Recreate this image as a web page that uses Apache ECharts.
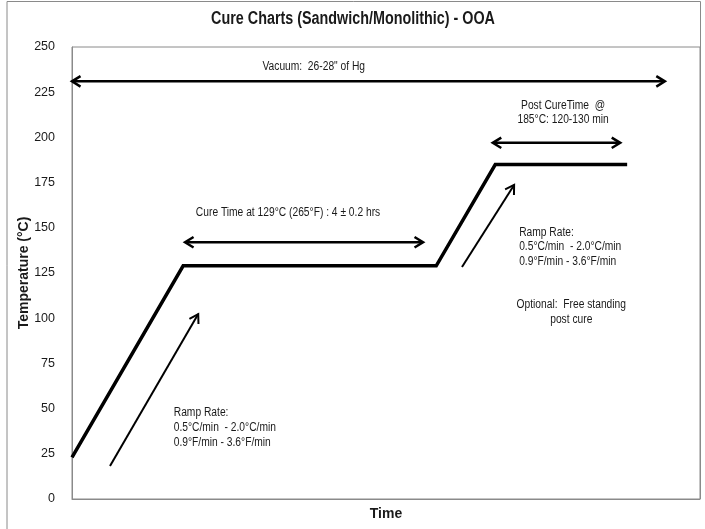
<!DOCTYPE html>
<html><head><meta charset="utf-8">
<script src="https://cdn.jsdelivr.net/npm/echarts@6/dist/echarts.min.js"></script>
<style>html,body{margin:0;padding:0;background:#fff}#c{width:705px;height:529px}</style>
</head><body><div id="c"></div>
<script>
const FONT = '"Liberation Sans Narrow","Arial Narrow","Liberation Sans",Arial,sans-serif';
const NARROW = 0.82; // horizontal squeeze to imitate the condensed face of the original

// Cure profile: time (arbitrary units, 0-100 across the axis) vs temperature (°C)
const profileTime = [0, 17.7, 58.0, 67.4, 88.4];
const profileTemp = [23, 129, 129, 185, 185];

// Y axis ticks
const yMin = 0, yMax = 250, yStep = 25;

// Double-headed arrows: [timeStart, temp, timeEnd, temp]
const doubleArrows = [
  [0, 231, 94.4, 231],    // vacuum
  [18.0, 142, 55.9, 142], // cure time
  [67.0, 197, 87.3, 197]  // post cure
];
// Single arrows (ramp direction): [timeFrom, tempFrom, timeTip, tempTip]
const singleArrows = [
  [6.05, 18.3, 20.1, 102.3],
  [62.1, 128.3, 70.4, 173.7]
];

// Annotation texts and anchors (time, temp)
const noteTexts = [
  'Vacuum:  26-28" of Hg',
  'Cure Time at 129°C (265°F) : 4 ± 0.2 hrs',
  'Post CureTime  @\n185°C: 120-130 min',
  'Ramp Rate:\n0.5°C/min  - 2.0°C/min\n0.9°F/min - 3.6°F/min',
  'Ramp Rate:\n0.5°C/min  - 2.0°C/min\n0.9°F/min - 3.6°F/min',
  'Optional:  Free standing\npost cure'
];
const noteTime = [38.5, 34.4, 78.2, 16.2, 71.2, 79.5];
const noteTemp = [239, 158.2, 213.8, 51.8, 151.4, 103.2];
const noteAlign = ['center', 'center', 'center', 'left', 'left', 'center'];
const noteVAlign = ['middle', 'middle', 'middle', 'top', 'top', 'middle'];
const noteLineHeight = [15, 15, 13.5, 15, 14.5, 15];

const TEXT = '#1a1a1a';
const titleText = 'Cure Charts (Sandwich/Monolithic) - OOA';

function chevron(tip, from, len, ang, w) {
  const dx = from[0] - tip[0], dy = from[1] - tip[1];
  const d = Math.hypot(dx, dy) || 1;
  const ux = dx / d, uy = dy / d;
  const rot = a => [tip[0] + len * (ux * Math.cos(a) - uy * Math.sin(a)),
                    tip[1] + len * (ux * Math.sin(a) + uy * Math.cos(a))];
  return { type: 'polyline', shape: { points: [rot(ang), tip, rot(-ang)] },
           style: { stroke: '#000', lineWidth: w, fill: null, lineJoin: 'miter' } };
}

const chart = echarts.init(document.getElementById('c'), null, { renderer: 'canvas' });
chart.setOption({
  animation: false,
  backgroundColor: '#fff',
  graphic: [{
    type: 'polyline', silent: true,
    shape: { points: [[7, 529], [7, 1.5], [700.5, 1.5], [700.5, 499]] },
    style: { stroke: '#8a8a8a', lineWidth: 1, fill: null }
  }, {
    type: 'text', silent: true, x: 353, y: 19, scaleX: NARROW,
    style: { text: titleText, fontFamily: FONT, fontSize: 17.5, fontWeight: 'bold', fill: TEXT,
             align: 'center', verticalAlign: 'middle' }
  }],
  grid: { left: 72, right: 5, top: 47, bottom: 30, show: true, borderColor: '#8a8a8a', borderWidth: 1 },
  xAxis: {
    type: 'value', min: 0, max: 100,
    name: 'Time', nameLocation: 'middle', nameGap: 8, nameMoveOverlap: false,
    nameTextStyle: { fontFamily: FONT, fontSize: 14, fontWeight: 'bold', color: TEXT },
    axisLine: { show: true, lineStyle: { color: '#8a8a8a' } },
    axisTick: { show: false }, axisLabel: { show: false }, splitLine: { show: false }
  },
  yAxis: {
    type: 'value', min: yMin, max: yMax, interval: yStep,
    name: 'Temperature (°C)', nameLocation: 'middle', nameGap: 41, nameMoveOverlap: false,
    nameTextStyle: { fontFamily: FONT, fontSize: 14, fontWeight: 'bold', color: TEXT },
    axisLine: { show: true, lineStyle: { color: '#8a8a8a' } },
    axisTick: { show: false }, splitLine: { show: false },
    axisLabel: { margin: 17, fontFamily: FONT, fontSize: 12.5, color: TEXT }
  },
  series: [
    {
      type: 'line', data: profileTime.map((t, i) => [t, profileTemp[i]]),
      symbol: 'none', lineStyle: { color: '#000', width: 3.5, join: 'miter', cap: 'butt' }
    },
    {
      type: 'custom', data: doubleArrows, encode: { x: [0, 2], y: [1, 3] },
      renderItem: (params, api) => {
        const a = api.coord([api.value(0), api.value(1)]);
        const b = api.coord([api.value(2), api.value(3)]);
        const w = 2.5;
        return { type: 'group', children: [
          { type: 'line', shape: { x1: a[0] + 1, y1: a[1], x2: b[0] - 1, y2: b[1] }, style: { stroke: '#000', lineWidth: w } },
          chevron(a, b, 10, 0.55, w), chevron(b, a, 10, 0.55, w)
        ] };
      }
    },
    {
      type: 'custom', data: singleArrows, encode: { x: [0, 2], y: [1, 3] },
      renderItem: (params, api) => {
        const a = api.coord([api.value(0), api.value(1)]);
        const b = api.coord([api.value(2), api.value(3)]);
        const w = 2;
        return { type: 'group', children: [
          { type: 'line', shape: { x1: a[0], y1: a[1], x2: b[0], y2: b[1] }, style: { stroke: '#000', lineWidth: w } },
          chevron(b, a, 10, 0.55, w)
        ] };
      }
    },
    {
      type: 'custom', data: noteTexts.map((t, i) => [noteTime[i], noteTemp[i], i]),
      encode: { x: 0, y: 1 },
      renderItem: (params, api) => {
        const i = api.value(2);
        const p = api.coord([api.value(0), api.value(1)]);
        return { type: 'text', x: p[0], y: p[1], scaleX: NARROW, style: {
          text: noteTexts[i], fontFamily: FONT, fontSize: 12.5, fill: TEXT,
          align: noteAlign[i], verticalAlign: noteVAlign[i], lineHeight: noteLineHeight[i]
        } };
      }
    }
  ]
});
</script></body></html>
